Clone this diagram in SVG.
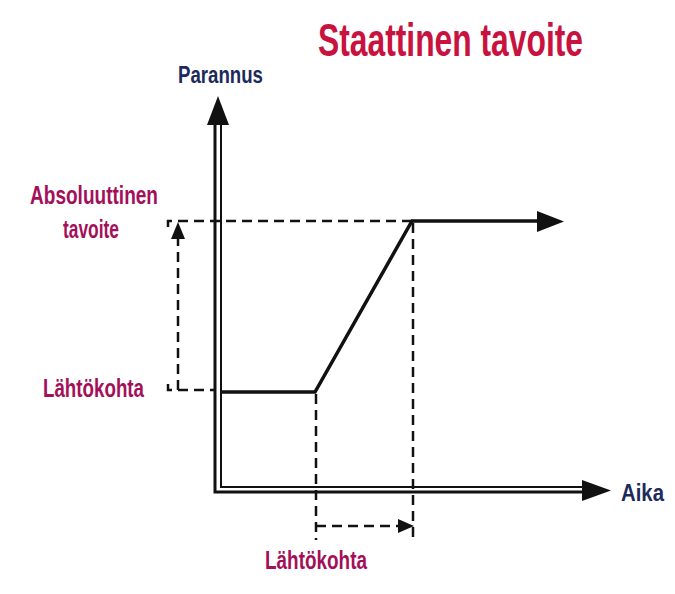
<svg xmlns="http://www.w3.org/2000/svg" width="675" height="594" viewBox="0 0 675 594">
<style>
text{font-family:"Liberation Sans Narrow","Liberation Sans",Arial,sans-serif;font-weight:bold;}
.title{fill:#c8123f;font-size:32px;}
.lbl{fill:#a3105a;font-size:26px;}
.ax{fill:#1c2a5c;font-size:24px;}
.solid{fill:none;stroke:#111;stroke-linejoin:miter;}
.dash{fill:none;stroke:#111;stroke-width:2.5;stroke-dasharray:10 6;}
.head{fill:#111;}
</style>
<rect width="675" height="594" fill="#fff"/>
<g id="title"><text class="title" transform="translate(318,56) scale(1,1.42)" x="0" y="0" textLength="265" lengthAdjust="spacingAndGlyphs">Staattinen tavoite</text></g>
<g id="y-label"><text class="ax" x="178" y="83" textLength="85" lengthAdjust="spacingAndGlyphs">Parannus</text></g>
<g id="x-label"><text class="ax" x="621" y="501" textLength="43" lengthAdjust="spacingAndGlyphs">Aika</text></g>
<g id="target-label">
<text class="lbl" x="30" y="204" textLength="128" lengthAdjust="spacingAndGlyphs">Absoluuttinen</text>
<text class="lbl" x="63" y="238" textLength="56" lengthAdjust="spacingAndGlyphs">tavoite</text>
</g>
<g id="start-label-left"><text class="lbl" x="43" y="397" textLength="101" lengthAdjust="spacingAndGlyphs">Lähtökohta</text></g>
<g id="start-label-bottom"><text class="lbl" x="265" y="569" textLength="102" lengthAdjust="spacingAndGlyphs">Lähtökohta</text></g>
<g id="connectors">
<path class="solid" stroke-width="3" d="M215,124 V492 H584"/>
<path class="solid" stroke-width="2" d="M221,124 V487 H584"/>
<polygon class="head" points="207,125 229,125 218,96"/>
<polygon class="head" points="582,480 582,501 611,490.5"/>
<path class="solid" stroke-width="3.5" d="M220,392 H315 L412,221 H540"/>
<polygon class="head" points="537,211 537,232 564,221.5"/>
<path class="dash" d="M168,227 V221 H412"/>
<path class="dash" d="M168,384 V390 H214"/>
<path class="dash" d="M178,390 V238"/>
<polygon class="head" points="171,239 185,239 178,222"/>
<path class="dash" d="M316,394 V540"/>
<path class="dash" d="M413,223 V540"/>
<path class="dash" d="M316,526 H399"/>
<polygon class="head" points="398,519 398,533 414,526"/>
</g>
</svg>
